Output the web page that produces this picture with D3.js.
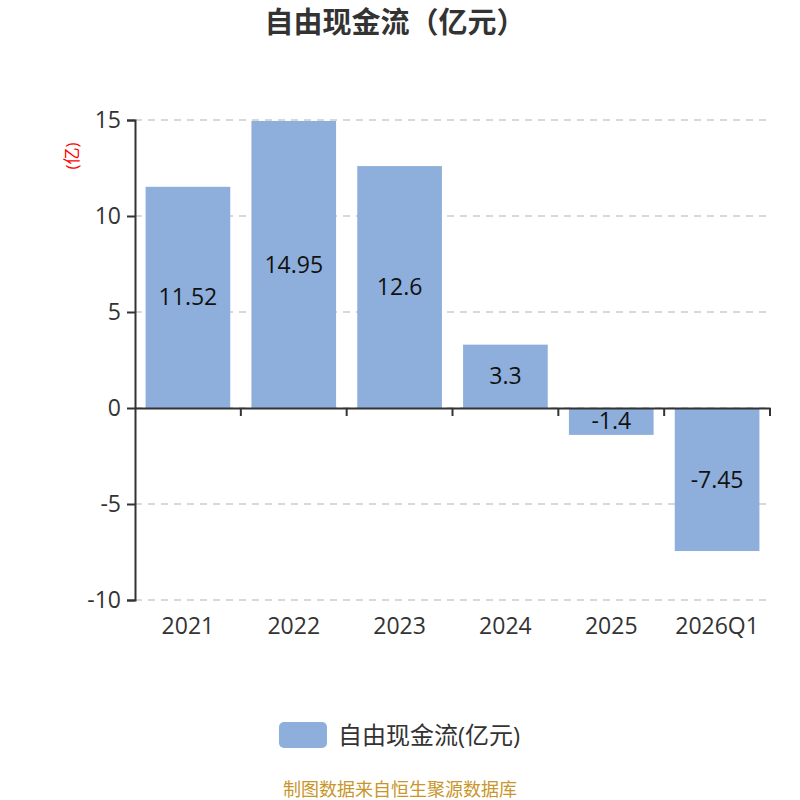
<!DOCTYPE html>
<html>
<head>
<meta charset="utf-8">
<script src="https://cdn.jsdelivr.net/npm/d3@7"></script>
<style>
body { margin: 0; background: #fff; }
text { font-family: "Open Sans", "Noto Sans CJK SC", sans-serif; }
</style>
</head>
<body>
<svg id="chart" width="800" height="800"></svg>
<script>
var categories = ["2021", "2022", "2023", "2024", "2025", "2026Q1"];
var values = [11.52, 14.95, 12.6, 3.3, -1.4, -7.45];
var yTicks = [15, 10, 5, 0, -5, -10];

var svg = d3.select("#chart");
var margin = {left: 135, right: 770, top: 120, bottom: 600};

var x = d3.scaleBand()
    .domain(categories)
    .range([margin.left, margin.right])
    .paddingInner(0.2)
    .paddingOuter(0.1);

var y = d3.scaleLinear()
    .domain([-10, 15])
    .range([margin.bottom, margin.top]);

// title
svg.append("text")
    .attr("x", 395).attr("y", 33)
    .attr("text-anchor", "middle")
    .attr("font-size", 29).attr("font-weight", "bold")
    .attr("fill", "#333")
    .text("自由现金流（亿元）");

// gridlines
svg.append("g").selectAll("line")
    .data(yTicks)
    .enter().append("line")
    .attr("x1", margin.left).attr("x2", margin.right)
    .attr("y1", d => y(d)).attr("y2", d => y(d))
    .attr("stroke", "#ccc").attr("stroke-width", 1.5)
    .attr("stroke-dasharray", "7,6");

// bars
svg.append("g").selectAll("rect")
    .data(values)
    .enter().append("rect")
    .attr("x", (d, i) => x(categories[i]))
    .attr("width", x.bandwidth())
    .attr("y", d => y(Math.max(0, d)))
    .attr("height", d => Math.abs(y(d) - y(0)))
    .attr("fill", "#8eaedb");

// value labels
svg.append("g").selectAll("text")
    .data(values)
    .enter().append("text")
    .attr("x", (d, i) => x(categories[i]) + x.bandwidth() / 2)
    .attr("y", d => (y(d) + y(0)) / 2)
    .attr("dy", "0.35em")
    .attr("text-anchor", "middle")
    .attr("font-size", 23)
    .attr("fill", "#111")
    .text(d => d);

// y axis
var yAxis = d3.axisLeft(y).tickValues(yTicks).tickSize(8).tickPadding(6)
    .tickFormat(d => String(d));
var gy = svg.append("g")
    .attr("transform", "translate(" + margin.left + ",0)")
    .call(yAxis);
gy.selectAll("path, line").attr("stroke", "#333").attr("stroke-width", 2);
gy.selectAll("text").attr("font-size", 23).attr("fill", "#333")
    .style("font-family", "'Open Sans', sans-serif");

// x axis along zero
var xAxis = d3.axisBottom(x).tickSize(0).tickFormat("");
var gx = svg.append("g")
    .attr("transform", "translate(0," + y(0) + ")")
    .call(xAxis);
gx.select("path").attr("stroke", "#333").attr("stroke-width", 2);
// boundary ticks between categories
var bounds = categories.map(c => x(c) - x.step() * x.paddingInner() / 2).slice(1);
bounds.push(margin.right);
gx.selectAll("line.bound")
    .data(bounds)
    .enter().append("line")
    .attr("class", "bound")
    .attr("x1", d => d).attr("x2", d => d)
    .attr("y1", 0).attr("y2", 8)
    .attr("stroke", "#333").attr("stroke-width", 2);

// category labels at bottom
svg.append("g").selectAll("text")
    .data(categories)
    .enter().append("text")
    .attr("x", d => x(d) + x.bandwidth() / 2)
    .attr("y", 634)
    .attr("text-anchor", "middle")
    .attr("font-size", 23)
    .attr("fill", "#333")
    .text(d => d);

// y unit label
svg.append("text")
    .attr("transform", "translate(78,156) rotate(-90)")
    .attr("text-anchor", "middle")
    .attr("font-size", 17)
    .attr("fill", "red")
    .text("(亿)");

// legend
svg.append("rect")
    .attr("x", 279).attr("y", 722)
    .attr("width", 48).attr("height", 26)
    .attr("rx", 5)
    .attr("fill", "#8eaedb");
svg.append("text")
    .attr("x", 338).attr("y", 744)
    .attr("font-size", 24)
    .attr("fill", "#333")
    .text("自由现金流(亿元)");

// footer
svg.append("text")
    .attr("x", 400).attr("y", 796)
    .attr("text-anchor", "middle")
    .attr("font-size", 18)
    .attr("fill", "#c8962a")
    .text("制图数据来自恒生聚源数据库");
</script>
</body>
</html>
